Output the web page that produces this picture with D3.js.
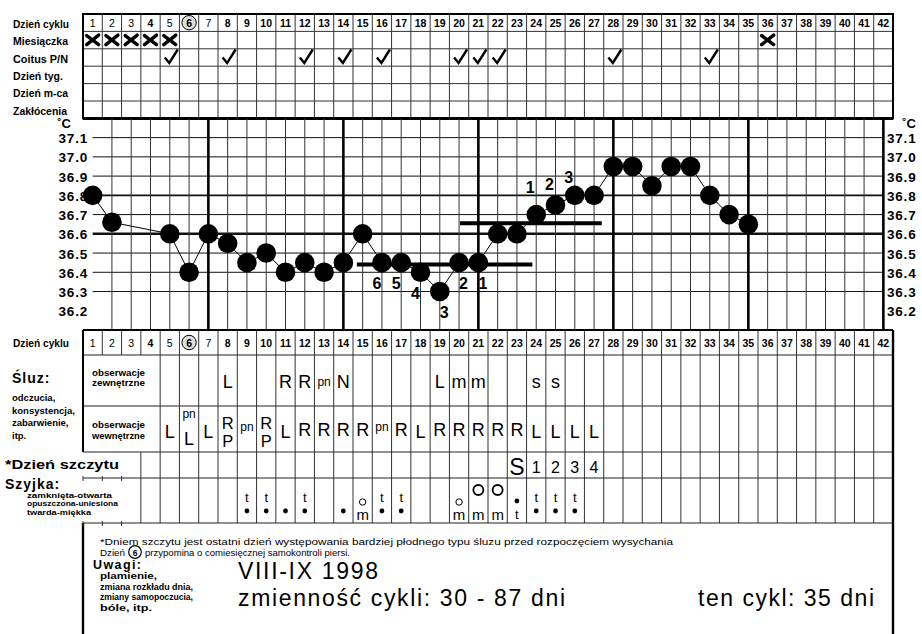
<!DOCTYPE html>
<html><head><meta charset="utf-8">
<script src="https://cdn.jsdelivr.net/npm/d3@7"></script>
<style>body{margin:0;background:#fff}svg{display:block}</style>
</head><body>
<script>
// ---------- DATA ----------
const days = d3.range(1, 43);
const circledDay = 6;
const topRowLabels = ["Dzień cyklu", "Miesiączka", "Coitus P/N", "Dzień tyg.", "Dzień m-ca", "Zakłócenia"];
const mensesDays = [1, 2, 3, 4, 5, 36];
const coitusDays = [5, 8, 12, 14, 16, 20, 21, 22, 28, 33];
const tempTicks = [37.1, 37.0, 36.9, 36.8, 36.7, 36.6, 36.5, 36.4, 36.3, 36.2];
const tempDays = [1, 2, 5, 6, 7, 8, 9, 10, 11, 12, 13, 14, 15, 16, 17, 18, 19, 20, 21, 22, 23, 24, 25, 26, 27, 28, 29, 30, 31, 32, 33, 34, 35];
const temps = [36.8, 36.66, 36.6, 36.4, 36.6, 36.55, 36.45, 36.5, 36.4, 36.45, 36.4, 36.45, 36.6, 36.45, 36.45, 36.4, 36.3, 36.45, 36.45, 36.6, 36.6, 36.7, 36.75, 36.8, 36.8, 36.95, 36.95, 36.85, 36.95, 36.95, 36.8, 36.7, 36.65];
const lowCountDays = [16, 17, 18, 19, 20, 21];
const lowCountLabels = ["6", "5", "4", "3", "2", "1"];
const highCountDays = [24, 25, 26];
const highCountLabels = ["1", "2", "3"];
const coverFrom = [14.7, 20.05];
const coverTo = [23.8, 27.4];
const coverTemp = [36.44, 36.655];
const extDays = [8, 11, 12, 13, 14, 19, 20, 21, 24, 25];
const extText = ["L", "R", "R", "pn", "N", "L", "m", "m", "s", "s"];
const intDays = [5, 6, 7, 8, 9, 10, 11, 12, 13, 14, 15, 16, 17, 18, 19, 20, 21, 22, 23, 24, 25, 26, 27];
const intTop = ["L", "pn", "L", "R", "pn", "R", "L", "R", "R", "R", "R", "pn", "R", "L", "R", "R", "R", "R", "R", "L", "L", "L", "L"];
const intBottom = ["", "L", "", "P", "", "P", "", "", "", "", "", "", "", "", "", "", "", "", "", "", "", "", ""];
const peakDays = [23, 24, 25, 26, 27];
const peakText = ["S", "1", "2", "3", "4"];
const cervixDays = [9, 10, 11, 12, 14, 15, 16, 17, 20, 21, 22, 23, 24, 25, 26];
const cervixTop = ["t", "t", "", "t", "", "o", "t", "t", "o", "O", "O", "•", "t", "t", "t"];
const cervixBottom = ["•", "•", "•", "•", "•", "m", "•", "•", "m", "m", "m", "t", "•", "•", "•"];
const noteLine1 = "*Dniem szczytu jest ostatni dzień występowania bardziej płodnego typu śluzu przed rozpoczęciem wysychania";
const noteLine2a = "Dzień";
const noteLine2b = "przypomina o comiesięcznej samokontroli piersi.";
const remarks = ["plamienie,", "zmiana rozkładu dnia,", "zmiany samopoczucia,", "bóle, itp."];
const periodText = "VIII-IX 1998";
const variabilityText = "zmienność cykli: 30 - 87 dni";
const thisCycleText = "ten cykl: 35 dni";

// ---------- LAYOUT ----------
const W = 922, H = 634;
const F = "'Liberation Sans', Arial, sans-serif";
const svg = d3.select("body").append("svg").attr("width", W).attr("height", H);
const X0 = 83, X1 = 893;
const band = d3.scaleBand().domain(days).range([X0, X1]);
const bw = band.bandwidth();
const cx = d => band(d) + bw / 2;
const dayLin = d3.scaleLinear().domain([0.5, 42.5]).range([X0, X1]);
const topY0 = 14, topY1 = 118.4;
const rowScale = d3.scaleBand().domain(topRowLabels).range([topY0, topY1]);
const yT = d3.scaleLinear().domain([36.1, 37.2]).range([330, topY1]);

function line(g, x1, y1, x2, y2, w, c) {
  g.append("line").attr("x1", x1).attr("y1", y1).attr("x2", x2).attr("y2", y2)
    .attr("stroke", c || "#111").attr("stroke-width", w || 1);
}
function txt(g, x, y, s, size, opts) {
  opts = opts || {};
  const t = g.append("text").attr("x", x).attr("y", y).text(s)
    .attr("font-family", opts.family || F).attr("font-size", size)
    .attr("font-weight", opts.weight || "normal")
    .attr("text-anchor", opts.anchor || "start")
    .attr("dominant-baseline", opts.base || "central")
    .attr("fill", "#000");
  if (opts.ls) t.attr("letter-spacing", opts.ls);
  if (opts.len) t.attr("textLength", opts.len).attr("lengthAdjust", opts.adj || "spacingAndGlyphs");
  return t;
}

// ---------- TOP TABLE ----------
const topG = svg.append("g");
days.slice(1).forEach(d => line(topG, band(d), topY0, band(d), topY1, 1, "#333"));
topRowLabels.slice(1).forEach(r => line(topG, X0, rowScale(r), X1, rowScale(r), 1, "#333"));
topG.append("rect").attr("x", X0).attr("y", topY0).attr("width", X1 - X0).attr("height", topY1 - topY0)
  .attr("fill", "none").attr("stroke", "#000").attr("stroke-width", 2);
line(topG, X0, topY1, X1, topY1, 3, "#000");
topRowLabels.forEach((r, i) => txt(topG, 13, rowScale(r) + rowScale.bandwidth() / 2 + 1, r, 10.5,
  {weight: "bold", len: [56, 55, 55, 50, 55, 54][i]}));

function headerRow(g, yc) {
  days.forEach(d => {
    if (d === circledDay) {
      g.append("circle").attr("cx", cx(d)).attr("cy", yc).attr("r", 7.2)
        .attr("fill", "#ddd").attr("stroke", "#000").attr("stroke-width", 1);
    }
    txt(g, cx(d), yc + 0.5, String(d), 10.5, {anchor: "middle", weight: [1, 2, 3, 5, 7].includes(d) ? "normal" : "bold"});
  });
}
headerRow(topG, rowScale(topRowLabels[0]) + rowScale.bandwidth() / 2);

const mRow = rowScale(topRowLabels[1]) + rowScale.bandwidth() / 2;
mensesDays.forEach(d => {
  topG.append("path").attr("transform", `translate(${cx(d)},${mRow})`)
    .attr("d", "M-6,-4.5 L6,4.5 M6,-5 L-6,4.5")
    .attr("stroke", "#000").attr("stroke-width", 3.4).attr("stroke-linecap", "round").attr("fill", "none");
});
const cRow = rowScale(topRowLabels[2]) + rowScale.bandwidth() / 2;
coitusDays.forEach(d => {
  topG.append("path").attr("transform", `translate(${cx(d) + 2},${cRow})`)
    .attr("d", "M-7,0 L-2.5,5.5 L6,-8")
    .attr("stroke", "#000").attr("stroke-width", 2.4).attr("fill", "none");
});

// ---------- TEMPERATURE CHART ----------
const tc = svg.append("g");
tempTicks.filter(t => t > 36.25).forEach(t => {
  const w = Math.abs(t - 36.6) < 1e-6 ? 2.6 : (Math.abs(t - 36.8) < 1e-6 ? 1.7 : 1);
  line(tc, cx(1), yT(t), cx(42), yT(t), w, "#111");
});
days.slice(1).forEach(d => {
  const thick = d % 7 === 0;
  line(tc, cx(d), topY1, cx(d), yT(36.1), thick ? 2.6 : 1, thick ? "#000" : "#333");
});
tempTicks.forEach(t => {
  const s = t.toFixed(1);
  txt(tc, 88, yT(t) + 1, s, 13.5, {anchor: "end", weight: "bold", ls: 0.8});
  txt(tc, 887, yT(t) + 1, s, 13.5, {weight: "bold", ls: 0.8});
});
txt(tc, 64, 123, "˚C", 13, {anchor: "middle", weight: "bold"});
txt(tc, 909, 123, "˚C", 13, {anchor: "middle", weight: "bold"});

// cover lines
coverFrom.forEach((f, i) => line(tc, dayLin(f), yT(coverTemp[i]), dayLin(coverTo[i]), yT(coverTemp[i]), 4, "#000"));

const pts = tempDays.map((d, i) => [cx(d), yT(temps[i])]);
tc.append("path").attr("d", d3.line()(pts)).attr("fill", "none").attr("stroke", "#000").attr("stroke-width", 1);
tc.selectAll("circle.pt").data(pts).join("circle").attr("class", "pt")
  .attr("cx", p => p[0]).attr("cy", p => p[1]).attr("r", 9.8).attr("fill", "#000");

const tempOf = d => temps[tempDays.indexOf(d)];
lowCountDays.forEach((d, i) => {
  const dx = d <= 18 ? -5 : 4.5;
  txt(tc, cx(d) + dx, yT(tempOf(d)) + 21, lowCountLabels[i], 16, {anchor: "middle", weight: "bold"});
});
highCountDays.forEach((d, i) => {
  txt(tc, cx(d) - 6, yT(tempOf(d)) - [27, 20, 18][i], highCountLabels[i], 16, {anchor: "middle", weight: "bold"});
});

// ---------- LOWER TABLE ----------
const lo = svg.append("g");
const hY0 = 330, hY1 = 355, eY1 = 406, iY1 = 452, pY1 = 478, sY1 = 523;
days.slice(1).forEach(d => line(lo, band(d), hY0, band(d), hY1, 1, "#333"));
days.filter(d => d >= 5).forEach(d => line(lo, band(d), hY1, band(d), iY1, 1, "#333"));
days.filter(d => d >= 4).forEach(d => line(lo, band(d), iY1, band(d), sY1, 1, "#333"));
[hY1, eY1, iY1, pY1, sY1].forEach(y => line(lo, X0, y, X1, y, 1.2, "#222"));
line(lo, X0, hY0, X1, hY0, 2.2, "#000");
line(lo, X0, hY0, X0, iY1, 2, "#000");
line(lo, X1, hY0, X1, H, 2.4, "#000");
line(lo, X0, sY1, X0, H, 2.4, "#000");
[pY1, sY1].forEach(y => [1, 2, 3].forEach(d => line(lo, band(d), y - 2, band(d), y + 3, 1, "#333")));
headerRow(lo, (hY0 + hY1) / 2);
txt(lo, 13, (hY0 + hY1) / 2, "Dzień cyklu", 10.5, {weight: "bold", len: 56});

txt(lo, 12, 378, "Śluz:", 14, {weight: "bold", ls: 1});
["odczucia,", "konsystencja,", "zabarwienie,", "itp."].forEach((s, i) =>
  txt(lo, 12, [397, 410, 422, 435][i], s, 9.5, {weight: "bold"}));
txt(lo, 92, 373, "obserwacje", 8.5, {weight: "bold", len: 53});
txt(lo, 92, 383, "zewnętrzne", 8.5, {weight: "bold", len: 53});
txt(lo, 92, 425, "obserwacje", 8.5, {weight: "bold", len: 53});
txt(lo, 92, 436, "wewnętrzne", 8.5, {weight: "bold", len: 53});

extDays.forEach((d, i) => {
  const s = extText[i];
  txt(lo, cx(d), 382, s, s === "pn" ? 12 : 18, {anchor: "middle"});
});
intDays.forEach((d, i) => {
  const a = intTop[i], b = intBottom[i];
  if (b) {
    txt(lo, cx(d), a === "pn" ? 414 : 423, a, a === "pn" ? 12 : 16.5, {anchor: "middle"});
    txt(lo, cx(d), a === "pn" ? 439 : 441, b, a === "pn" ? 18 : 16.5, {anchor: "middle"});
  } else {
    txt(lo, cx(d), a === "pn" ? 427 : (a === "L" ? 432 : 430), a, a === "pn" ? 12 : 18, {anchor: "middle"});
  }
});

txt(lo, 5, 465, "*Dzień szczytu", 12.5, {weight: "bold", len: 114});
peakDays.forEach((d, i) => {
  const s = peakText[i];
  txt(lo, cx(d), 467, s, s === "S" ? 23 : 16, {anchor: "middle"});
});

txt(lo, 5, 484, "Szyjka:", 14, {weight: "bold", ls: 1});
["zamknięta-otwarta", "opuszczona-uniesiona", "twarda-miękka"].forEach((s, i) =>
  txt(lo, 27, [495, 503.5, 512][i], s, 7.5, {weight: "bold", len: [85, 91, 64][i]}));

function glyph(x, s, pos) {
  if (s === "•") {
    lo.append("circle").attr("cx", x).attr("cy", pos === "top" ? 501 : 511).attr("r", 2.4).attr("fill", "#000");
  } else if (s === "o") {
    lo.append("circle").attr("cx", x).attr("cy", 502).attr("r", 3.2).attr("fill", "none").attr("stroke", "#000").attr("stroke-width", 1);
  } else if (s === "O") {
    lo.append("circle").attr("cx", x).attr("cy", 490).attr("r", 5).attr("fill", "none").attr("stroke", "#000").attr("stroke-width", 1.8);
  } else if (s === "t") {
    txt(lo, x, pos === "top" ? 497 : 514, "t", 13, {anchor: "middle"});
  } else if (s === "m") {
    txt(lo, x, 514, "m", 15, {anchor: "middle"});
  }
}
cervixDays.forEach((d, i) => {
  if (cervixTop[i]) glyph(cx(d), cervixTop[i], "top");
  glyph(cx(d), cervixBottom[i], "bottom");
});

// ---------- NOTES ----------
const nt = svg.append("g");
txt(nt, 100, 541, noteLine1, 9.5, {len: 573});
txt(nt, 100, 552.5, noteLine2a, 9.5, {len: 25});
nt.append("circle").attr("cx", 135).attr("cy", 552).attr("r", 6.3).attr("fill", "none").attr("stroke", "#000").attr("stroke-width", 1.2);
txt(nt, 135, 552.5, "6", 8.5, {anchor: "middle", weight: "bold"});
txt(nt, 145, 552.5, noteLine2b, 9.5, {len: 205});
txt(nt, 93, 565, "Uwagi:", 12.5, {weight: "bold", ls: 1.4});
remarks.forEach((s, i) => txt(nt, 100, 576 + i * 10.6, s, 8.8, {weight: "bold", len: [57, 93, 93, 52][i]}));
txt(nt, 238, 571, periodText, 23, {len: 140, adj: "spacing"});
txt(nt, 238, 598, variabilityText, 23, {len: 327, adj: "spacing"});
txt(nt, 874, 598, thisCycleText, 23, {anchor: "end", len: 176, adj: "spacing"});
</script>
</body></html>
